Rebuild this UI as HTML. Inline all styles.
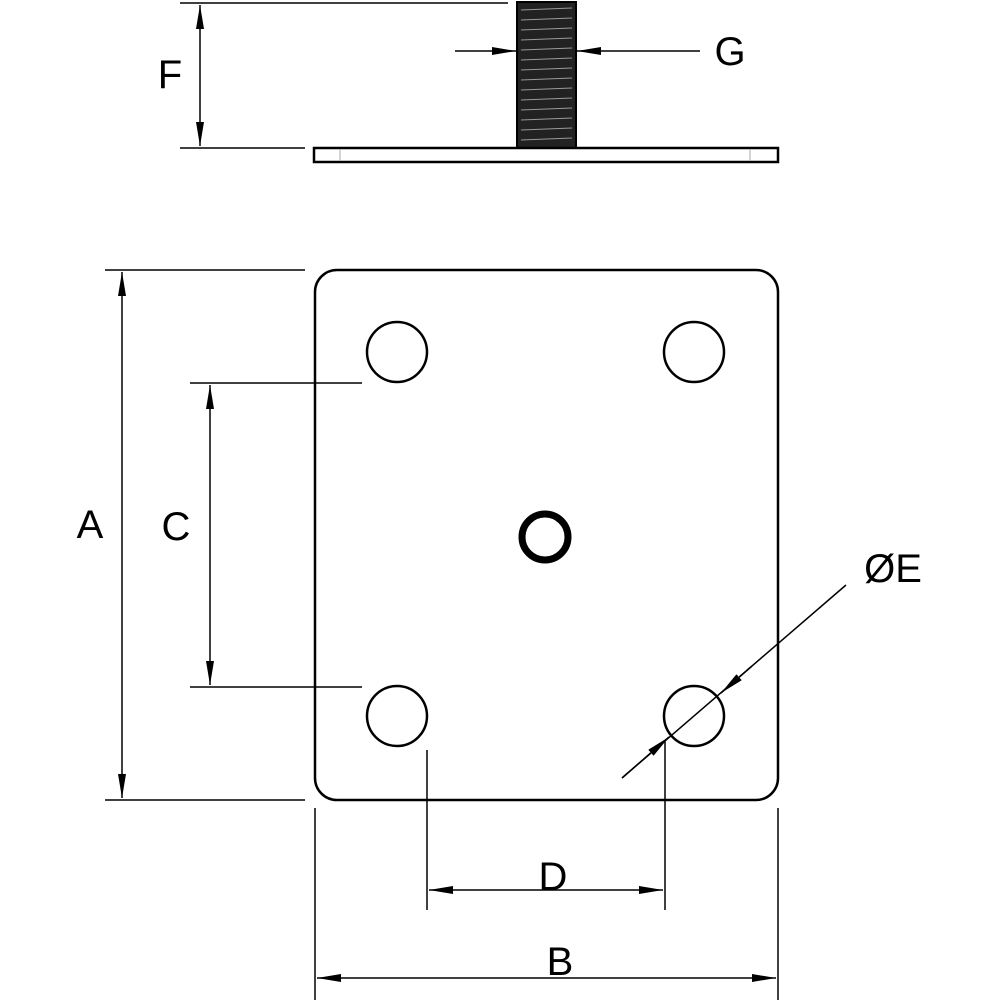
<!DOCTYPE html>
<html><head><style>body{margin:0;background:#fff}svg{display:block}</style></head><body>
<svg width="1000" height="1000" viewBox="0 0 1000 1000" xmlns="http://www.w3.org/2000/svg">
<defs>
<marker id="a" viewBox="0 0 10 10" refX="10" refY="5" markerWidth="24" markerHeight="8" markerUnits="userSpaceOnUse" orient="auto-start-reverse" preserveAspectRatio="none"><path d="M0,0 L10,5 L0,10 z" fill="#000"/></marker>
</defs>
<g stroke="#000" fill="none">
<rect x="517" y="2" width="59" height="146" fill="#222" stroke-width="2"/>
<g stroke="#999" stroke-width="1">
<path d="M521 10 L572 8 M521 20 L572 18 M521 30 L572 28 M521 40 L572 38 M521 50 L572 48 M521 60 L572 58 M521 70 L572 68 M521 80 L572 78 M521 90 L572 88 M521 100 L572 98 M521 110 L572 108 M521 120 L572 118 M521 130 L572 128 M521 140 L572 138"/>
</g>
<rect x="314" y="148" width="464" height="14" stroke-width="2.5" fill="#fff"/>
<path d="M340 149 V161 M750 149 V161" stroke="#aaa"/>
<path d="M180 3 H508 M180 148 H305" stroke-width="1.5"/>
<path d="M200 5 V146" stroke-width="1.5" marker-start="url(#a)" marker-end="url(#a)"/>
<path d="M455 51 H516" stroke-width="1.5" marker-end="url(#a)"/>
<path d="M700 51 H577" stroke-width="1.5" marker-end="url(#a)"/>
<rect x="315" y="270" width="463" height="530" rx="22" stroke-width="2.5"/>
<circle cx="397" cy="352" r="30" stroke-width="2.5"/>
<circle cx="694" cy="352" r="30" stroke-width="2.5"/>
<circle cx="397" cy="716" r="30" stroke-width="2.5"/>
<circle cx="694" cy="716" r="30" stroke-width="2.5"/>
<circle cx="545" cy="537" r="23" stroke-width="7"/>
<path d="M105 270 H305 M105 800 H305" stroke-width="1.5"/>
<path d="M122 272 V798" stroke-width="1.5" marker-start="url(#a)" marker-end="url(#a)"/>
<path d="M190 383 H362 M190 687 H362" stroke-width="1.5"/>
<path d="M210 385 V685" stroke-width="1.5" marker-start="url(#a)" marker-end="url(#a)"/>
<path d="M427 750 V910 M665 740 V910" stroke-width="1.5"/>
<path d="M429 890 H663" stroke-width="1.5" marker-start="url(#a)" marker-end="url(#a)"/>
<path d="M315 808 V1000 M778 808 V1000" stroke-width="1.5"/>
<path d="M317 978 H776" stroke-width="1.5" marker-start="url(#a)" marker-end="url(#a)"/>
<path d="M622 778 L846 585" stroke-width="1.5"/>
<path d="M752 666 L721 693" stroke-width="1.5" marker-end="url(#a)"/>
<path d="M622 778 L669 737" stroke-width="1.5" marker-end="url(#a)"/>
</g>
<g font-family="Liberation Sans, sans-serif" font-size="40" fill="#000" text-anchor="middle">
<text x="170" y="88">F</text>
<text x="730" y="65">G</text>
<text x="90" y="538">A</text>
<text x="176" y="540">C</text>
<text x="553" y="890">D</text>
<text x="560" y="975">B</text>
<text x="893" y="582">ØE</text>
</g>
</svg>
</body></html>
